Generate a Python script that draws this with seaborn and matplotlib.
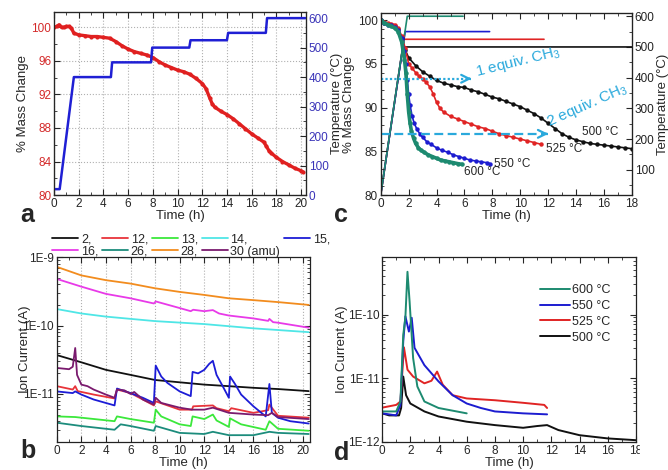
import numpy as np
import matplotlib
import matplotlib.pyplot as plt
import matplotlib.ticker as mticker
from matplotlib.patches import Rectangle
import seaborn as sns

matplotlib.use('Agg')

sns.set_style('ticks')
plt.rcParams['font.family'] = ['Liberation Sans', 'DejaVu Sans']
plt.rcParams['mathtext.fontset'] = 'custom'
plt.rcParams['mathtext.rm'] = 'Liberation Sans'
plt.rcParams['font.size'] = 9

# ---- panel a: mass change and temperature programme ----
a_time = [0, 0.2, 0.4, 0.6, 0.8, 1.0, 1.2, 1.4, 1.6, 2, 2.5, 3, 3.5, 4, 4.5, 5, 5.5, 6, 6.5, 7,
          7.5, 8, 8.5, 9, 9.5, 10, 10.5, 11, 11.5, 12, 12.3, 12.6, 12.8, 13, 13.5, 14, 14.5, 15,
          15.5, 16, 16.5, 17, 17.2, 17.4, 17.6, 18, 18.5, 19, 19.5, 20, 20.2]
a_mass = [100.0, 100.1, 100.3, 100.0, 100.0, 100.1, 100.1, 99.9, 99.3, 99.1, 99.0, 98.9, 98.9,
          98.8, 98.7, 98.3, 97.8, 97.4, 97.1, 96.9, 96.7, 96.4, 95.9, 95.5, 95.2, 94.9, 94.7,
          94.4, 93.9, 93.3, 92.7, 91.6, 90.9, 90.5, 90.0, 89.6, 89.1, 88.5, 87.9, 87.3, 86.8,
          86.3, 85.8, 85.3, 85.0, 84.5, 84.0, 83.6, 83.2, 82.9, 82.7]
a_temp_time = [0, 0.45, 1.6, 4.6, 4.7, 7.85, 7.95, 10.95, 11.05, 14.0, 14.1, 17.15, 17.25, 20.35]
a_temp = [20, 20, 400, 400, 450, 450, 500, 500, 525, 525, 550, 550, 600, 600]

# ---- panel b: mass spectrometer ion currents ----
b_series = ['2', '12', '13', '14', '15', '16', '26', '28', '30']
b_colors = ['#111111', '#e8343a', '#3be83b', '#4fe6e6', '#1c1cd6', '#e83ae8', '#1c8c7c',
            '#f28c1e', '#7a1a6e']
b_data = {
    '28': ([0, 2, 4, 6, 8, 10, 12, 14, 16, 18, 20.5],
           [7.2e-10, 5.4e-10, 4.6e-10, 4.1e-10, 3.5e-10, 3.1e-10, 2.8e-10, 2.5e-10, 2.35e-10,
            2.2e-10, 2.0e-10]),
    '16': ([0, 2, 4, 6, 7.9, 8.05, 10, 10.9, 11.1, 12, 12.7, 13.2, 14, 16, 17.2, 17.3, 17.6, 18, 20.5],
           [4.8e-10, 3.7e-10, 2.9e-10, 2.5e-10, 2.1e-10, 2.25e-10, 1.8e-10, 1.62e-10, 1.7e-10,
            1.62e-10, 1.68e-10, 1.5e-10, 1.4e-10, 1.27e-10, 1.17e-10, 1.25e-10, 1.12e-10,
            1.1e-10, 9.3e-11]),
    '14': ([0, 2, 4, 8, 12, 16, 20.5],
           [1.74e-10, 1.5e-10, 1.35e-10, 1.16e-10, 1.05e-10, 9.1e-11, 8.0e-11]),
    '2': ([0, 2, 4, 6, 8, 10, 12, 14, 16, 18, 20.5],
          [3.7e-11, 2.9e-11, 2.25e-11, 1.9e-11, 1.6e-11, 1.48e-11, 1.37e-11, 1.3e-11, 1.23e-11,
           1.18e-11, 1.1e-11]),
    '30': ([0, 1, 1.3, 1.5, 1.65, 2, 2.5, 3, 4, 4.7, 4.9, 5.5, 6, 6.3, 7, 7.9, 8.05, 8.5, 10, 11,
            12, 12.7, 14, 16, 17.2, 17.5, 18, 20.5],
           [2.4e-11, 2.3e-11, 2.5e-11, 4.7e-11, 1.9e-11, 1.37e-11, 1.3e-11, 1.16e-11, 9.8e-12,
            8.8e-12, 1.16e-11, 1.13e-11, 1.0e-11, 1.07e-11, 8.3e-12, 7.0e-12, 8.8e-12, 7.4e-12,
            6.3e-12, 5.9e-12, 5.9e-12, 6.3e-12, 5.3e-12, 5.0e-12, 4.9e-12, 5.3e-12, 4.6e-12,
            4.3e-12]),
    '12': ([0, 1.3, 1.5, 1.7, 3, 4.7, 4.9, 6, 7, 7.9, 8.05, 10, 11, 11.1, 12.7, 13, 14, 14.2, 16,
            17.2, 17.3, 18, 20.5],
           [1.3e-11, 1.16e-11, 1.3e-11, 1.1e-11, 9.8e-12, 8.6e-12, 1.16e-11, 1.03e-11, 8.3e-12,
            6.8e-12, 7.8e-12, 5.9e-12, 5.9e-12, 6.6e-12, 6.8e-12, 6.2e-12, 5.6e-12, 6.2e-12,
            5.3e-12, 5.8e-12, 7.0e-12, 4.8e-12, 4.5e-12]),
    '15': ([0, 1.3, 1.5, 2, 3, 4.7, 4.9, 6, 7, 7.9, 8.05, 8.5, 9, 10, 10.9, 11.05, 11.5, 12, 12.4,
            12.7, 13, 13.5, 14, 14.1, 14.5, 15, 16, 17, 17.3, 17.5, 18, 19, 20.5],
           [1.09e-11, 1.03e-11, 1.09e-11, 9.8e-12, 8.3e-12, 6.8e-12, 1.2e-11, 1.03e-11, 8.8e-12,
            7.4e-12, 2.6e-11, 1.8e-11, 1.45e-11, 1.09e-11, 9.3e-12, 2.1e-11, 2.0e-11, 2.25e-11,
            2.75e-11, 3.05e-11, 1.9e-11, 1.3e-11, 8.8e-12, 1.8e-11, 1.4e-11, 9.8e-12, 6.6e-12,
            4.7e-12, 1.4e-11, 5.3e-12, 4.5e-12, 4.0e-12, 3.7e-12]),
    '13': ([0, 1.5, 4.7, 4.9, 6, 7.9, 8.05, 8.5, 10, 10.9, 11.05, 12, 12.7, 13, 14, 14.1, 15, 17,
            17.3, 18, 20.5],
           [4.7e-12, 4.6e-12, 4.0e-12, 4.7e-12, 4.3e-12, 3.8e-12, 5.9e-12, 4.7e-12, 3.6e-12,
            3.4e-12, 4.7e-12, 4.3e-12, 5.0e-12, 4.1e-12, 3.3e-12, 4.4e-12, 3.6e-12, 3.0e-12,
            4.0e-12, 3.1e-12, 2.9e-12]),
    '26': ([0, 2, 4.7, 5.2, 6, 7.9, 8.05, 10, 12, 12.7, 14, 16, 17.3, 18, 20.5],
           [3.8e-12, 3.4e-12, 3.0e-12, 3.6e-12, 3.4e-12, 2.9e-12, 3.4e-12, 2.7e-12, 2.6e-12,
            2.8e-12, 2.5e-12, 2.5e-12, 2.8e-12, 2.7e-12, 2.6e-12]),
}
# legend order so that the 5-column legend reads row by row
b_legend_order = ['2', '16', '12', '26', '13', '28', '14', '30', '15']

# ---- panel c: isothermal mass loss ----
c_labels = ['500 °C', '525 °C', '550 °C', '600 °C']
c_colors = ['#111111', '#e02424', '#1c1cd0', '#1d8a70']
c_time = {
    '500 °C': [0, 0.25, 0.5, 0.75, 1.0, 1.25, 1.5, 1.75, 2.0, 2.5, 3.0, 3.5, 4.0, 4.5, 5, 5.5, 6,
               6.5, 7, 7.5, 8, 8.5, 9, 9.5, 10, 10.5, 11, 11.5, 12, 12.5, 13, 13.5, 14, 14.5, 15,
               15.5, 16, 16.5, 17, 17.5, 18],
    '525 °C': [0, 0.25, 0.5, 0.75, 1.0, 1.25, 1.5, 1.75, 2.0, 2.25, 2.5, 2.75, 3.0, 3.25, 3.5,
               3.75, 4.0, 4.25, 4.5, 5, 5.5, 6, 6.5, 7, 7.5, 8, 8.5, 9, 9.5, 10, 10.5, 11, 11.5],
    '550 °C': [0, 0.25, 0.5, 0.75, 1.0, 1.25, 1.5, 1.7, 1.8, 1.9, 2.0, 2.1, 2.25, 2.4, 2.6, 2.8,
               3.0, 3.3, 3.6, 4.0, 4.4, 4.8, 5.2, 5.6, 6.0, 6.4, 6.8, 7.2, 7.6, 7.8],
    '600 °C': [0, 0.25, 0.5, 0.75, 1.0, 1.25, 1.5, 1.7, 1.8, 1.9, 2.0, 2.1, 2.2, 2.35, 2.5, 2.7,
               2.9, 3.1, 3.4, 3.7, 4.0, 4.3, 4.6, 4.9, 5.2, 5.5, 5.85],
}
c_mass = {
    '500 °C': [100.0, 99.7, 99.6, 99.4, 99.3, 99.0, 98.0, 96.6, 95.7, 94.8, 94.1, 93.6, 93.1,
               92.8, 92.6, 92.4, 92.3, 92.0, 91.8, 91.5, 91.2, 91.0, 90.7, 90.4, 90.1, 89.7, 89.3,
               88.8, 88.2, 87.6, 87.0, 86.6, 86.3, 86.1, 85.9, 85.8, 85.7, 85.6, 85.5, 85.4, 85.3],
    '525 °C': [100.0, 99.8, 99.7, 99.6, 99.5, 99.1, 98.2, 96.8, 95.0, 94.5, 94.0, 93.6, 93.3,
               92.9, 92.4, 91.6, 90.6, 89.9, 89.5, 89.0, 88.7, 88.4, 88.1, 87.8, 87.6, 87.3, 87.0,
               86.8, 86.6, 86.4, 86.2, 86.0, 85.8],
    '550 °C': [100, 99.7, 99.5, 99.4, 99.2, 98.9, 98.0, 96.5, 95.0, 93.2, 91.5, 90.3, 89.0, 88.2,
               87.5, 87.0, 86.6, 86.1, 85.8, 85.4, 85.1, 84.9, 84.6, 84.4, 84.2, 84.0, 83.9, 83.8,
               83.7, 83.6],
    '600 °C': [100, 99.7, 99.5, 99.3, 99.1, 98.7, 97.5, 95.5, 94.0, 91.5, 89.5, 88.2, 87.3, 86.5,
               85.9, 85.4, 85.1, 84.9, 84.6, 84.4, 84.2, 84.0, 83.9, 83.8, 83.7, 83.6, 83.5],
}
c_temp_time = {'500 °C': [0, 1.58, 18], '525 °C': [0, 1.66, 11.7],
               '550 °C': [0, 1.75, 7.8], '600 °C': [0, 1.9, 5.9]}
c_temp = {'500 °C': [20, 500, 500], '525 °C': [20, 525, 525],
          '550 °C': [20, 550, 550], '600 °C': [20, 600, 600]}
equiv_levels = [93.3, 87.0]   # % mass for loss of 1 and 2 CH3
equiv_ends = [6.7, 12.2]

# ---- panel d: ion current at each temperature ----
d_time = {
    '500 °C': [0, 0.5, 1.2, 1.35, 1.5, 1.7, 2, 3, 4, 6, 8, 10, 11, 11.7, 12.5, 14, 16, 18],
    '525 °C': [0, 1, 1.3, 1.55, 1.8, 2.2, 3, 3.5, 3.9, 4.3, 5, 6, 8, 10, 11.5, 11.7],
    '550 °C': [0, 1, 1.3, 1.5, 1.65, 1.9, 2.1, 2.3, 3, 4, 5, 6, 7, 8, 10, 11.7],
    '600 °C': [0, 1, 1.3, 1.5, 1.65, 1.8, 1.95, 2.2, 2.5, 3, 4, 6],
}
d_current = {
    '500 °C': [2.8e-12, 2.6e-12, 2.6e-12, 3.4e-12, 1.06e-11, 5.4e-12, 4.0e-12, 3.0e-12, 2.5e-12,
               2.07e-12, 1.83e-12, 1.66e-12, 1.77e-12, 1.83e-12, 1.53e-12, 1.27e-12, 1.13e-12,
               1.06e-12],
    '525 °C': [3.44e-12, 3.8e-12, 4.3e-12, 3.05e-11, 1.36e-11, 1.06e-11, 8.3e-12, 9.1e-12,
               1.27e-11, 7.9e-12, 5.4e-12, 4.8e-12, 4.5e-12, 4.1e-12, 3.8e-12, 3.4e-12],
    '550 °C': [2.8e-12, 2.6e-12, 3.8e-12, 3.8e-11, 9.4e-11, 5.4e-11, 8.9e-11, 3.0e-11, 1.6e-11,
               8.9e-12, 5.4e-12, 4.0e-12, 3.4e-12, 3.0e-12, 2.8e-12, 2.7e-12],
    '600 °C': [3.0e-12, 3.0e-12, 4.3e-12, 4.8e-11, 8.9e-11, 4.7e-10, 1.6e-10, 2.07e-11, 7.4e-12,
               4.3e-12, 3.4e-12, 2.8e-12],
}

CYAN = '#2aa9dc'
RED_TXT = '#d42a2a'
BLUE_TXT = '#3a34b8'
TICK_FS = 8.5
LABEL_FS = 9.5


def style_axes(ax, right=True):
    ax.tick_params(which='both', direction='in', top=True, right=right,
                   labelsize=TICK_FS, pad=2)
    ax.tick_params(which='major', length=4)
    ax.tick_params(which='minor', length=2)
    for sp in ax.spines.values():
        sp.set_linewidth(0.9)
        sp.set_color('#222222')


def style_twin(ax, color='#222222'):
    ax.tick_params(which='both', direction='in', right=True, labelsize=TICK_FS, pad=2,
                   labelcolor=color)
    ax.tick_params(which='major', length=4)
    ax.tick_params(which='minor', length=2)


def log_label(v, pos):
    return '1E%d' % int(round(np.log10(v)))


fig = plt.figure(figsize=(6.68, 4.70), dpi=100)

# ----- a -----
ax_a = fig.add_axes([0.081, 0.585, 0.377, 0.389])
sns.lineplot(x=a_time, y=a_mass, ax=ax_a, color='#e02020', lw=2.4, marker='o', markersize=3,
             markeredgewidth=0, estimator=None, sort=False)
ax_a.set_xlim(0, 20.4)
ax_a.set_ylim(80, 101.8)
ax_a.set_yticks([80, 84, 88, 92, 96, 100])
ax_a.set_xticks(range(0, 21, 2))
ax_a.xaxis.set_minor_locator(mticker.MultipleLocator(1))
ax_a.yaxis.set_minor_locator(mticker.MultipleLocator(2))
ax_a.grid(True, ls=':', color='#b0b0b0', lw=0.8)
style_axes(ax_a, right=False)
ax_a.tick_params(axis='y', labelcolor=RED_TXT)
ax_a.set_xlabel('Time (h)', fontsize=LABEL_FS, labelpad=0)
ax_a.set_ylabel('% Mass Change', fontsize=LABEL_FS, labelpad=2)

ax_a2 = ax_a.twinx()
sns.lineplot(x=a_temp_time, y=a_temp, ax=ax_a2, color='#1f1fd4', lw=1.8,
             estimator=None, sort=False)
ax_a2.set_ylim(0, 620)
ax_a2.set_yticks(range(0, 601, 100))
ax_a2.yaxis.set_minor_locator(mticker.MultipleLocator(50))
style_twin(ax_a2, BLUE_TXT)
ax_a2.set_ylabel('Temperature (°C)', fontsize=LABEL_FS, labelpad=2)

# ----- c -----
ax_c = fig.add_axes([0.570, 0.585, 0.376, 0.387])
ax_c2 = ax_c.twinx()
for lab, col in zip(c_labels, c_colors):
    sns.lineplot(x=c_temp_time[lab], y=c_temp[lab], ax=ax_c2, color=col, lw=1.2,
                 estimator=None, sort=False)
ax_c2.set_ylim(18, 610)
ax_c2.set_yticks(range(100, 601, 100))
ax_c2.yaxis.set_minor_locator(mticker.MultipleLocator(50))
style_twin(ax_c2)
ax_c2.set_ylabel('Temperature (°C)', fontsize=LABEL_FS, labelpad=2)

for lab, col in zip(c_labels, c_colors):
    lw = 2.6 if lab == '600 °C' else 1.2
    sns.lineplot(x=c_time[lab], y=c_mass[lab], ax=ax_c, color=col, lw=lw, marker='o',
                 markersize=3.2, markeredgewidth=0, estimator=None, sort=False)
ax_c.set_zorder(ax_c2.get_zorder() + 1)
ax_c.patch.set_visible(False)

ax_c.set_xlim(0, 18)
ax_c.set_ylim(80, 100.8)
ax_c.set_xticks(range(0, 19, 2))
ax_c.set_yticks([80, 85, 90, 95, 100])
ax_c.xaxis.set_minor_locator(mticker.MultipleLocator(1))
ax_c.yaxis.set_minor_locator(mticker.MultipleLocator(1))
style_axes(ax_c, right=False)
ax_c.set_xlabel('Time (h)', fontsize=LABEL_FS, labelpad=0)
ax_c.set_ylabel('% Mass Change', fontsize=LABEL_FS, labelpad=2)

# equivalent CH3 loss arrows
ax_c.plot([0, equiv_ends[0] - 0.2], [equiv_levels[0]] * 2, ls=(0, (1, 1)), color=CYAN, lw=1.6)
ax_c.annotate('', xy=(equiv_ends[0], equiv_levels[0]), xytext=(equiv_ends[0] - 0.6, equiv_levels[0]),
              arrowprops=dict(arrowstyle='->', color=CYAN, lw=1.6, mutation_scale=14))
ax_c.plot([0, equiv_ends[1] - 0.2], [equiv_levels[1]] * 2, ls=(0, (4, 2)), color=CYAN, lw=1.6)
ax_c.annotate('', xy=(equiv_ends[1], equiv_levels[1]), xytext=(equiv_ends[1] - 0.6, equiv_levels[1]),
              arrowprops=dict(arrowstyle='->', color=CYAN, lw=1.6, mutation_scale=14))
ax_c.text(7.0, 93.0, '1 equiv. CH$_3$', color=CYAN, fontsize=11, rotation=14,
          rotation_mode='anchor', ha='left', va='bottom')
ax_c.text(12.2, 87.3, '2 equiv. CH$_3$', color=CYAN, fontsize=11, rotation=24,
          rotation_mode='anchor', ha='left', va='bottom', clip_on=False)
ax_c.text(14.45, 87.2, '500 °C', fontsize=8.5, va='center')
ax_c.text(11.85, 85.3, '525 °C', fontsize=8.5, va='center')
ax_c.text(8.1, 83.6, '550 °C', fontsize=8.5, va='center')
ax_c.text(6.0, 82.6, '600 °C', fontsize=8.5, va='center')

# ----- b -----
ax_b = fig.add_axes([0.085, 0.060, 0.379, 0.393])
b_lines = {}
for s, col in zip(b_series, b_colors):
    t, v = b_data[s]
    sns.lineplot(x=t, y=v, ax=ax_b, color=col, lw=1.3, estimator=None, sort=False)
    b_lines[s] = ax_b.get_lines()[-1]
ax_b.set_yscale('log')
ax_b.set_ylim(2e-12, 1e-9)
ax_b.set_xlim(0, 20.6)
ax_b.set_xticks(range(0, 21, 2))
ax_b.xaxis.set_minor_locator(mticker.MultipleLocator(1))
ax_b.yaxis.set_major_locator(mticker.FixedLocator([1e-11, 1e-10, 1e-9]))
ax_b.yaxis.set_major_formatter(mticker.FuncFormatter(log_label))
ax_b.yaxis.set_minor_locator(mticker.LogLocator(subs=np.arange(2, 10)))
ax_b.yaxis.set_minor_formatter(mticker.NullFormatter())
ax_b.grid(True, axis='x', ls=':', color='#b0b0b0', lw=0.8)
style_axes(ax_b)
ax_b.set_xlabel('Time (h)', fontsize=LABEL_FS, labelpad=0)
ax_b.set_ylabel('Ion Current (A)', fontsize=LABEL_FS, labelpad=-6)
ax_b.legend([b_lines[s] for s in b_legend_order],
            [s + (' (amu)' if s == '30' else ',') for s in b_legend_order],
            loc='upper center', bbox_to_anchor=(0.53, 1.16), ncol=5, frameon=False,
            fontsize=9, handlelength=2.1, handletextpad=0.2, columnspacing=0.3,
            labelspacing=0.0, borderpad=0)

# ----- d -----
ax_d = fig.add_axes([0.572, 0.060, 0.380, 0.393])
for lab, col in zip(c_labels, c_colors):
    sns.lineplot(x=d_time[lab], y=d_current[lab], ax=ax_d, color=col, lw=1.4, label=lab,
                 estimator=None, sort=False)
ax_d.set_yscale('log')
ax_d.set_ylim(1e-12, 8e-10)
ax_d.set_xlim(0, 18)
ax_d.set_xticks(range(0, 19, 2))
ax_d.xaxis.set_minor_locator(mticker.MultipleLocator(1))
ax_d.yaxis.set_major_locator(mticker.FixedLocator([1e-12, 1e-11, 1e-10]))
ax_d.yaxis.set_major_formatter(mticker.FuncFormatter(log_label))
ax_d.yaxis.set_minor_locator(mticker.LogLocator(subs=np.arange(2, 10)))
ax_d.yaxis.set_minor_formatter(mticker.NullFormatter())
style_axes(ax_d)
ax_d.set_xlabel('Time (h)', fontsize=LABEL_FS, labelpad=0)
ax_d.set_ylabel('Ion Current (A)', fontsize=LABEL_FS, labelpad=0)
handles, labels = ax_d.get_legend_handles_labels()
ax_d.legend(handles[::-1], labels[::-1], loc='upper right', bbox_to_anchor=(0.92, 0.88),
            borderaxespad=0, frameon=False, fontsize=9, handlelength=2.4,
            handletextpad=0.2, labelspacing=0.3)

# panel letters
for letter, x, y in [('a', 0.030, 0.528), ('c', 0.500, 0.528), ('b', 0.030, 0.025),
                     ('d', 0.500, 0.022)]:
    fig.text(x, y, letter, fontsize=18, fontweight='bold')

# the source figure is cropped right after panel d
fig.patches.append(Rectangle((0.958, 0.0), 0.05, 0.5, transform=fig.transFigure,
                             color='white', zorder=10))

fig.savefig('out.png', dpi=100)
